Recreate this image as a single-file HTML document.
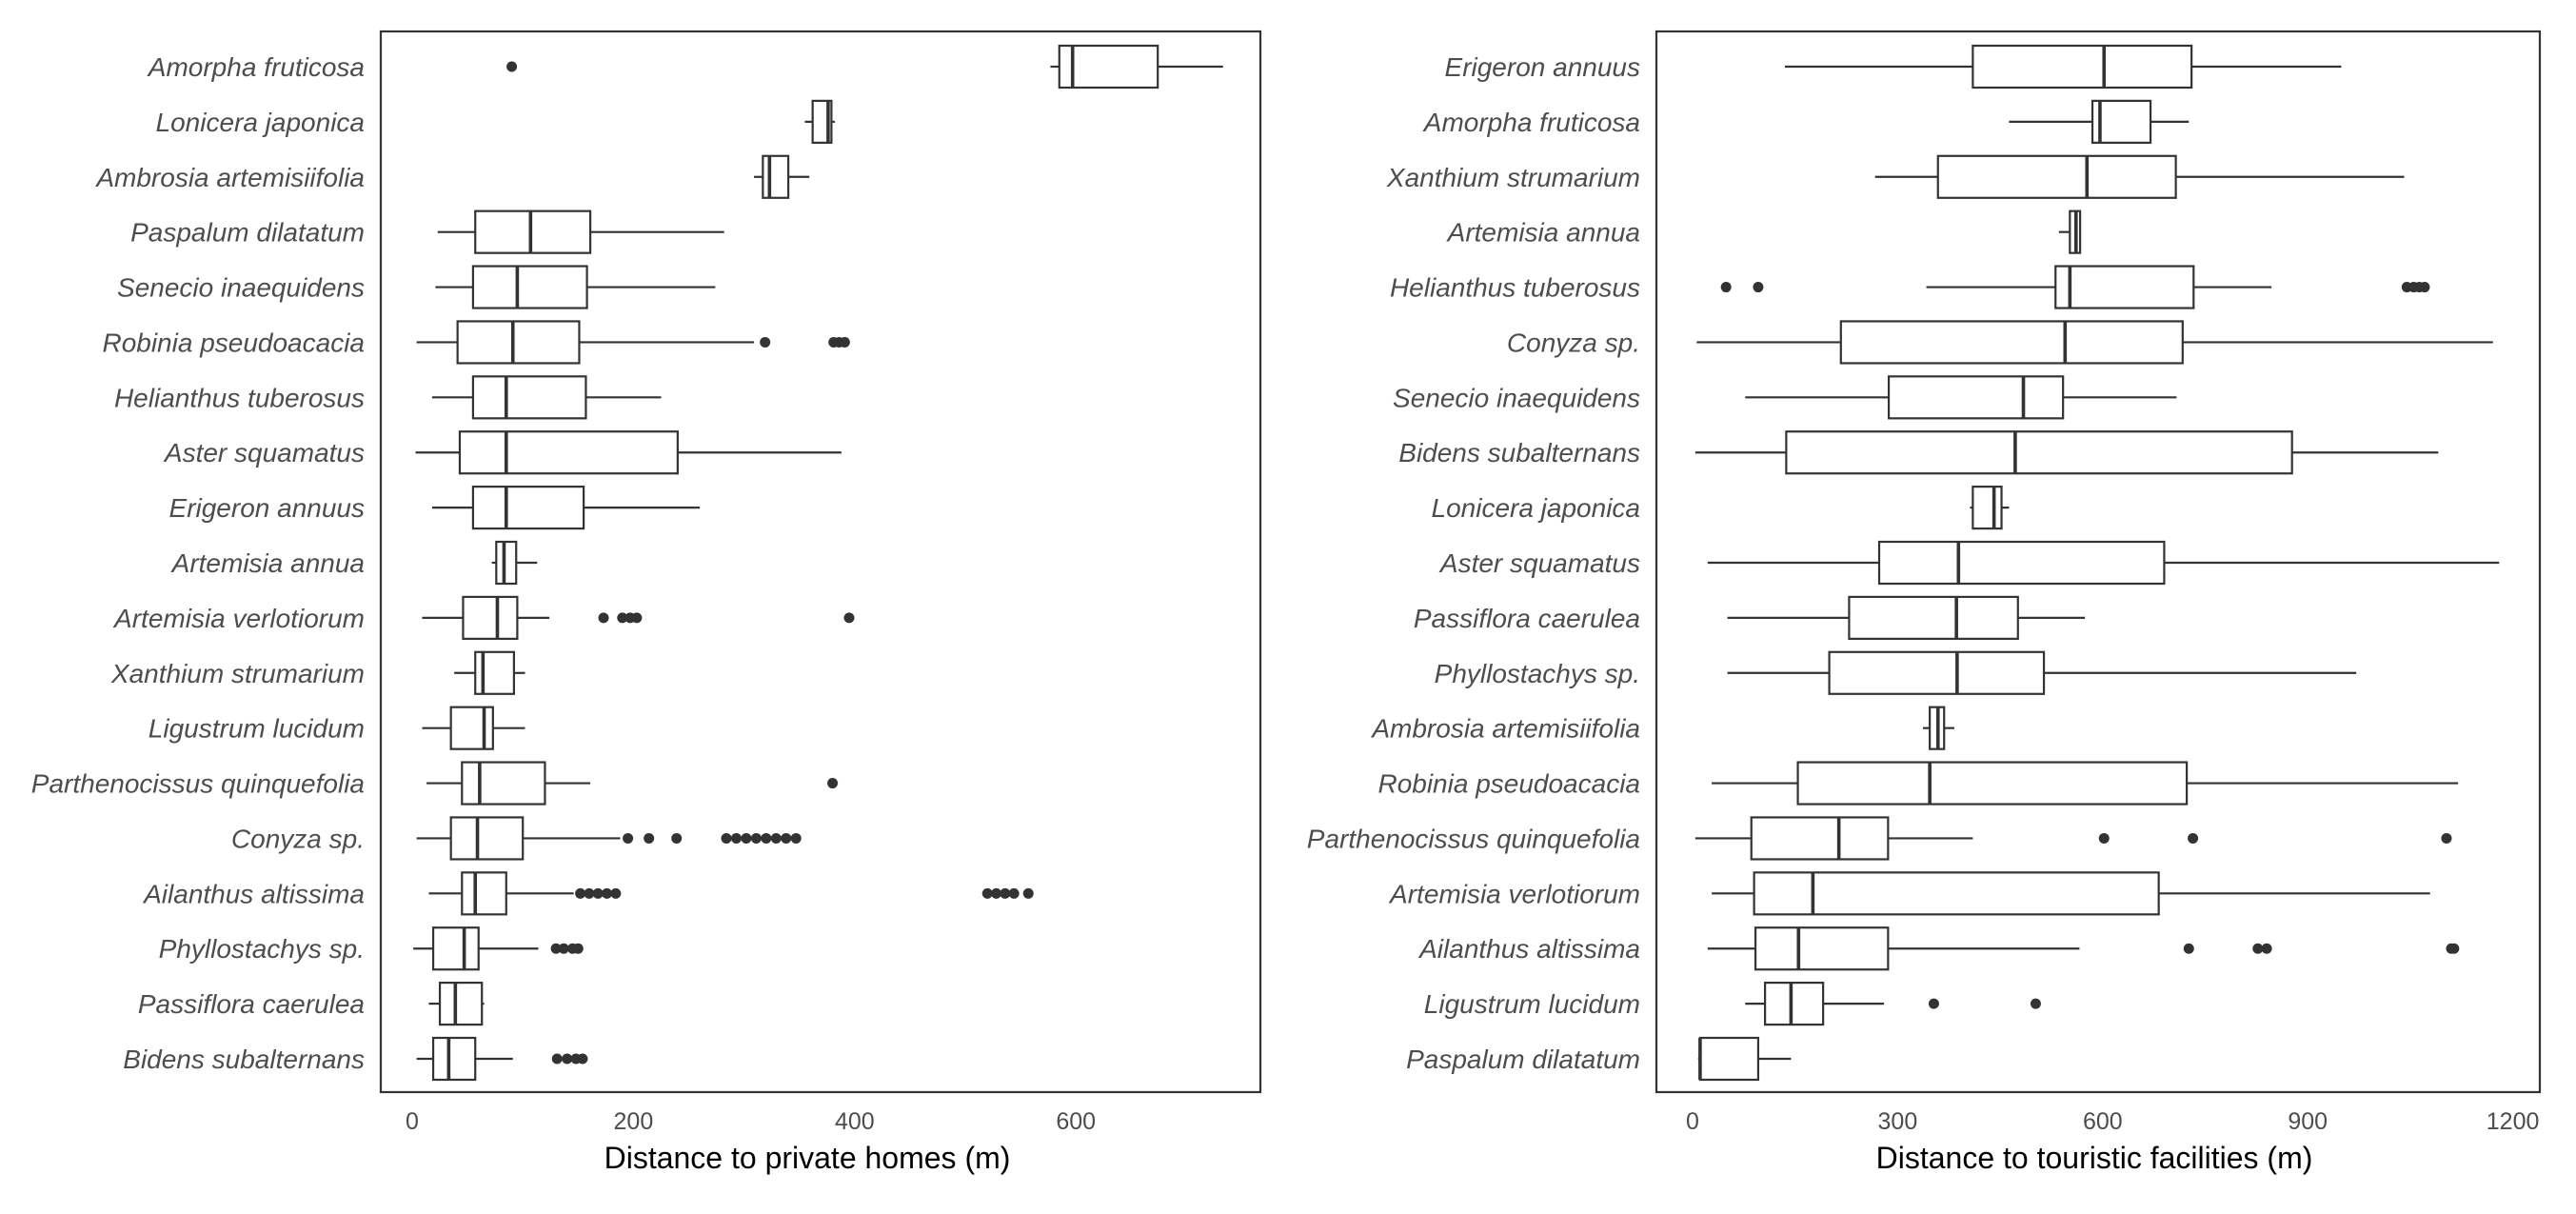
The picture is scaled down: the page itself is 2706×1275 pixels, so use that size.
<!DOCTYPE html>
<html><head><meta charset="utf-8"><style>
body{margin:0;background:#fff}
svg{display:block}
.cat{font-family:"Liberation Sans",sans-serif;font-style:italic;font-size:28px;fill:#4d4d4d}
.tick{font-family:"Liberation Sans",sans-serif;font-size:25px;fill:#4d4d4d}
.title{font-family:"Liberation Sans",sans-serif;font-size:32px;fill:#000}
</style></head><body>
<svg id="chart" width="2706" height="1275" viewBox="0 0 2706 1275" xmlns="http://www.w3.org/2000/svg"></svg>
<script>
// Left panel data: [lo, q1, median, q3, hi]
const leftCategories = ["Amorpha fruticosa","Lonicera japonica","Ambrosia artemisiifolia","Paspalum dilatatum","Senecio inaequidens","Robinia pseudoacacia","Helianthus tuberosus","Aster squamatus","Erigeron annuus","Artemisia annua","Artemisia verlotiorum","Xanthium strumarium","Ligustrum lucidum","Parthenocissus quinquefolia","Conyza sp.","Ailanthus altissima","Phyllostachys sp.","Passiflora caerulea","Bidens subalternans"];
const leftStats = [[577,585,597,674,733],[355,362,376,379,382],[309,317,323,340,359],[23,57,107,161,282],[21,55,95,158,274],[4,41,91,151,309],[18,55,85,157,225],[3,43,85,240,388],[18,55,85,155,260],[72,76,83,94,113],[9,46,77,95,124],[38,57,64,92,102],[9,35,65,73,102],[13,45,61,120,161],[4,35,59,100,188],[15,45,57,85,146],[1,19,47,60,114],[15,25,39,63,65],[4,19,33,57,91]];
const leftOutliers = [[90],[],[],[],[],[319,381,386,391],[],[],[],[],[173,190,197,203,395],[],[],[380],[195,214,239,284,293,302,311,320,329,338,347],[152,160,168,176,184,520,528,536,544,557],[130,137,145,150],[],[131,140,148,154]];
const leftTicks = [0,200,400,600];
// Right panel data
const rightCategories = ["Erigeron annuus","Amorpha fruticosa","Xanthium strumarium","Artemisia annua","Helianthus tuberosus","Conyza sp.","Senecio inaequidens","Bidens subalternans","Lonicera japonica","Aster squamatus","Passiflora caerulea","Phyllostachys sp.","Ambrosia artemisiifolia","Robinia pseudoacacia","Parthenocissus quinquefolia","Artemisia verlotiorum","Ailanthus altissima","Ligustrum lucidum","Paspalum dilatatum"];
const rightStats = [[135,410,602,730,949],[463,585,596,670,726],[267,359,577,707,1041],[536,552,561,567,567],[342,531,552,733,847],[6,217,545,717,1171],[77,287,484,542,708],[4,137,472,877,1091],[406,410,441,452,463],[22,273,389,690,1180],[51,229,386,476,574],[51,200,387,514,971],[337,347,359,368,383],[28,154,347,723,1120],[4,86,214,286,410],[28,90,176,682,1079],[22,92,155,286,566],[77,106,144,191,280],[8,11,11,96,144]];
const rightOutliers = [[],[],[],[],[49,96,1045,1055,1063,1071],[],[],[],[],[],[],[],[],[],[602,732,1103],[],[726,827,840,1110,1114],[353,502],[]];
const rightTicks = [0,300,600,900,1200];

const svg = document.getElementById('chart');
const NS = "http://www.w3.org/2000/svg";
function mk(tag, attrs, parent){const e=document.createElementNS(NS,tag);for(const k in attrs)e.setAttribute(k,attrs[k]);parent.appendChild(e);return e;}

function panel(cfg){
  const g = mk('g',{},svg);
  
  
  const sx = v => cfg.x0 + v*cfg.k;
  const top=33, bot=1147, n=cfg.cats.length;
  const y0=70, step=(1112-70)/(n-1), bh=44;
  const fr = mk('rect',{x:cfg.left,y:top,width:cfg.right-cfg.left,height:bot-top,fill:'none',stroke:'#333','stroke-width':2.2},g);
  
  
  cfg.cats.forEach((c,i)=>{
    const y=y0+i*step, s=cfg.stats[i];
    const t=mk('text',{x:cfg.left-17,y:y+10,'text-anchor':'end',class:'cat'},g);
    t.textContent=c;
    
    
    const bg=mk('g',{stroke:'#333','stroke-width':2.2,fill:'#fff'},g);
    
    
    mk('line',{x1:sx(s[0]),x2:sx(s[1]),y1:y,y2:y},bg);
    mk('line',{x1:sx(s[3]),x2:sx(s[4]),y1:y,y2:y},bg);
    mk('rect',{x:sx(s[1]),y:y-bh/2,width:Math.max(sx(s[3])-sx(s[1]),1),height:bh},bg);
    mk('line',{x1:sx(s[2]),x2:sx(s[2]),y1:y-bh/2,y2:y+bh/2,'stroke-width':3.6},bg);
    cfg.outs[i].forEach(o=>{
      const d=mk('circle',{cx:sx(o),cy:y,r:5.5,fill:'#333',stroke:'none'},g);
      
      
    });
  });
  cfg.ticks.forEach(t=>{
    const tx=mk('text',{x:sx(t),y:1186,'text-anchor':'middle',class:'tick'},g);
    tx.textContent=t;
    
    
  });
  const ti=mk('text',{x:cfg.titleX,y:1227,'text-anchor':'middle',class:'title'},g);
  ti.textContent=cfg.title;
  
  
}
panel({name:'private-homes-panel',left:400,right:1324,x0:433,k:1.162,cats:leftCategories,stats:leftStats,outs:leftOutliers,ticks:leftTicks,title:'Distance to private homes (m)',titleX:848});
panel({name:'touristic-facilities-panel',left:1740,right:2668,x0:1778,k:0.718,cats:rightCategories,stats:rightStats,outs:rightOutliers,ticks:rightTicks,title:'Distance to touristic facilities (m)',titleX:2200});
</script>
</body></html>
